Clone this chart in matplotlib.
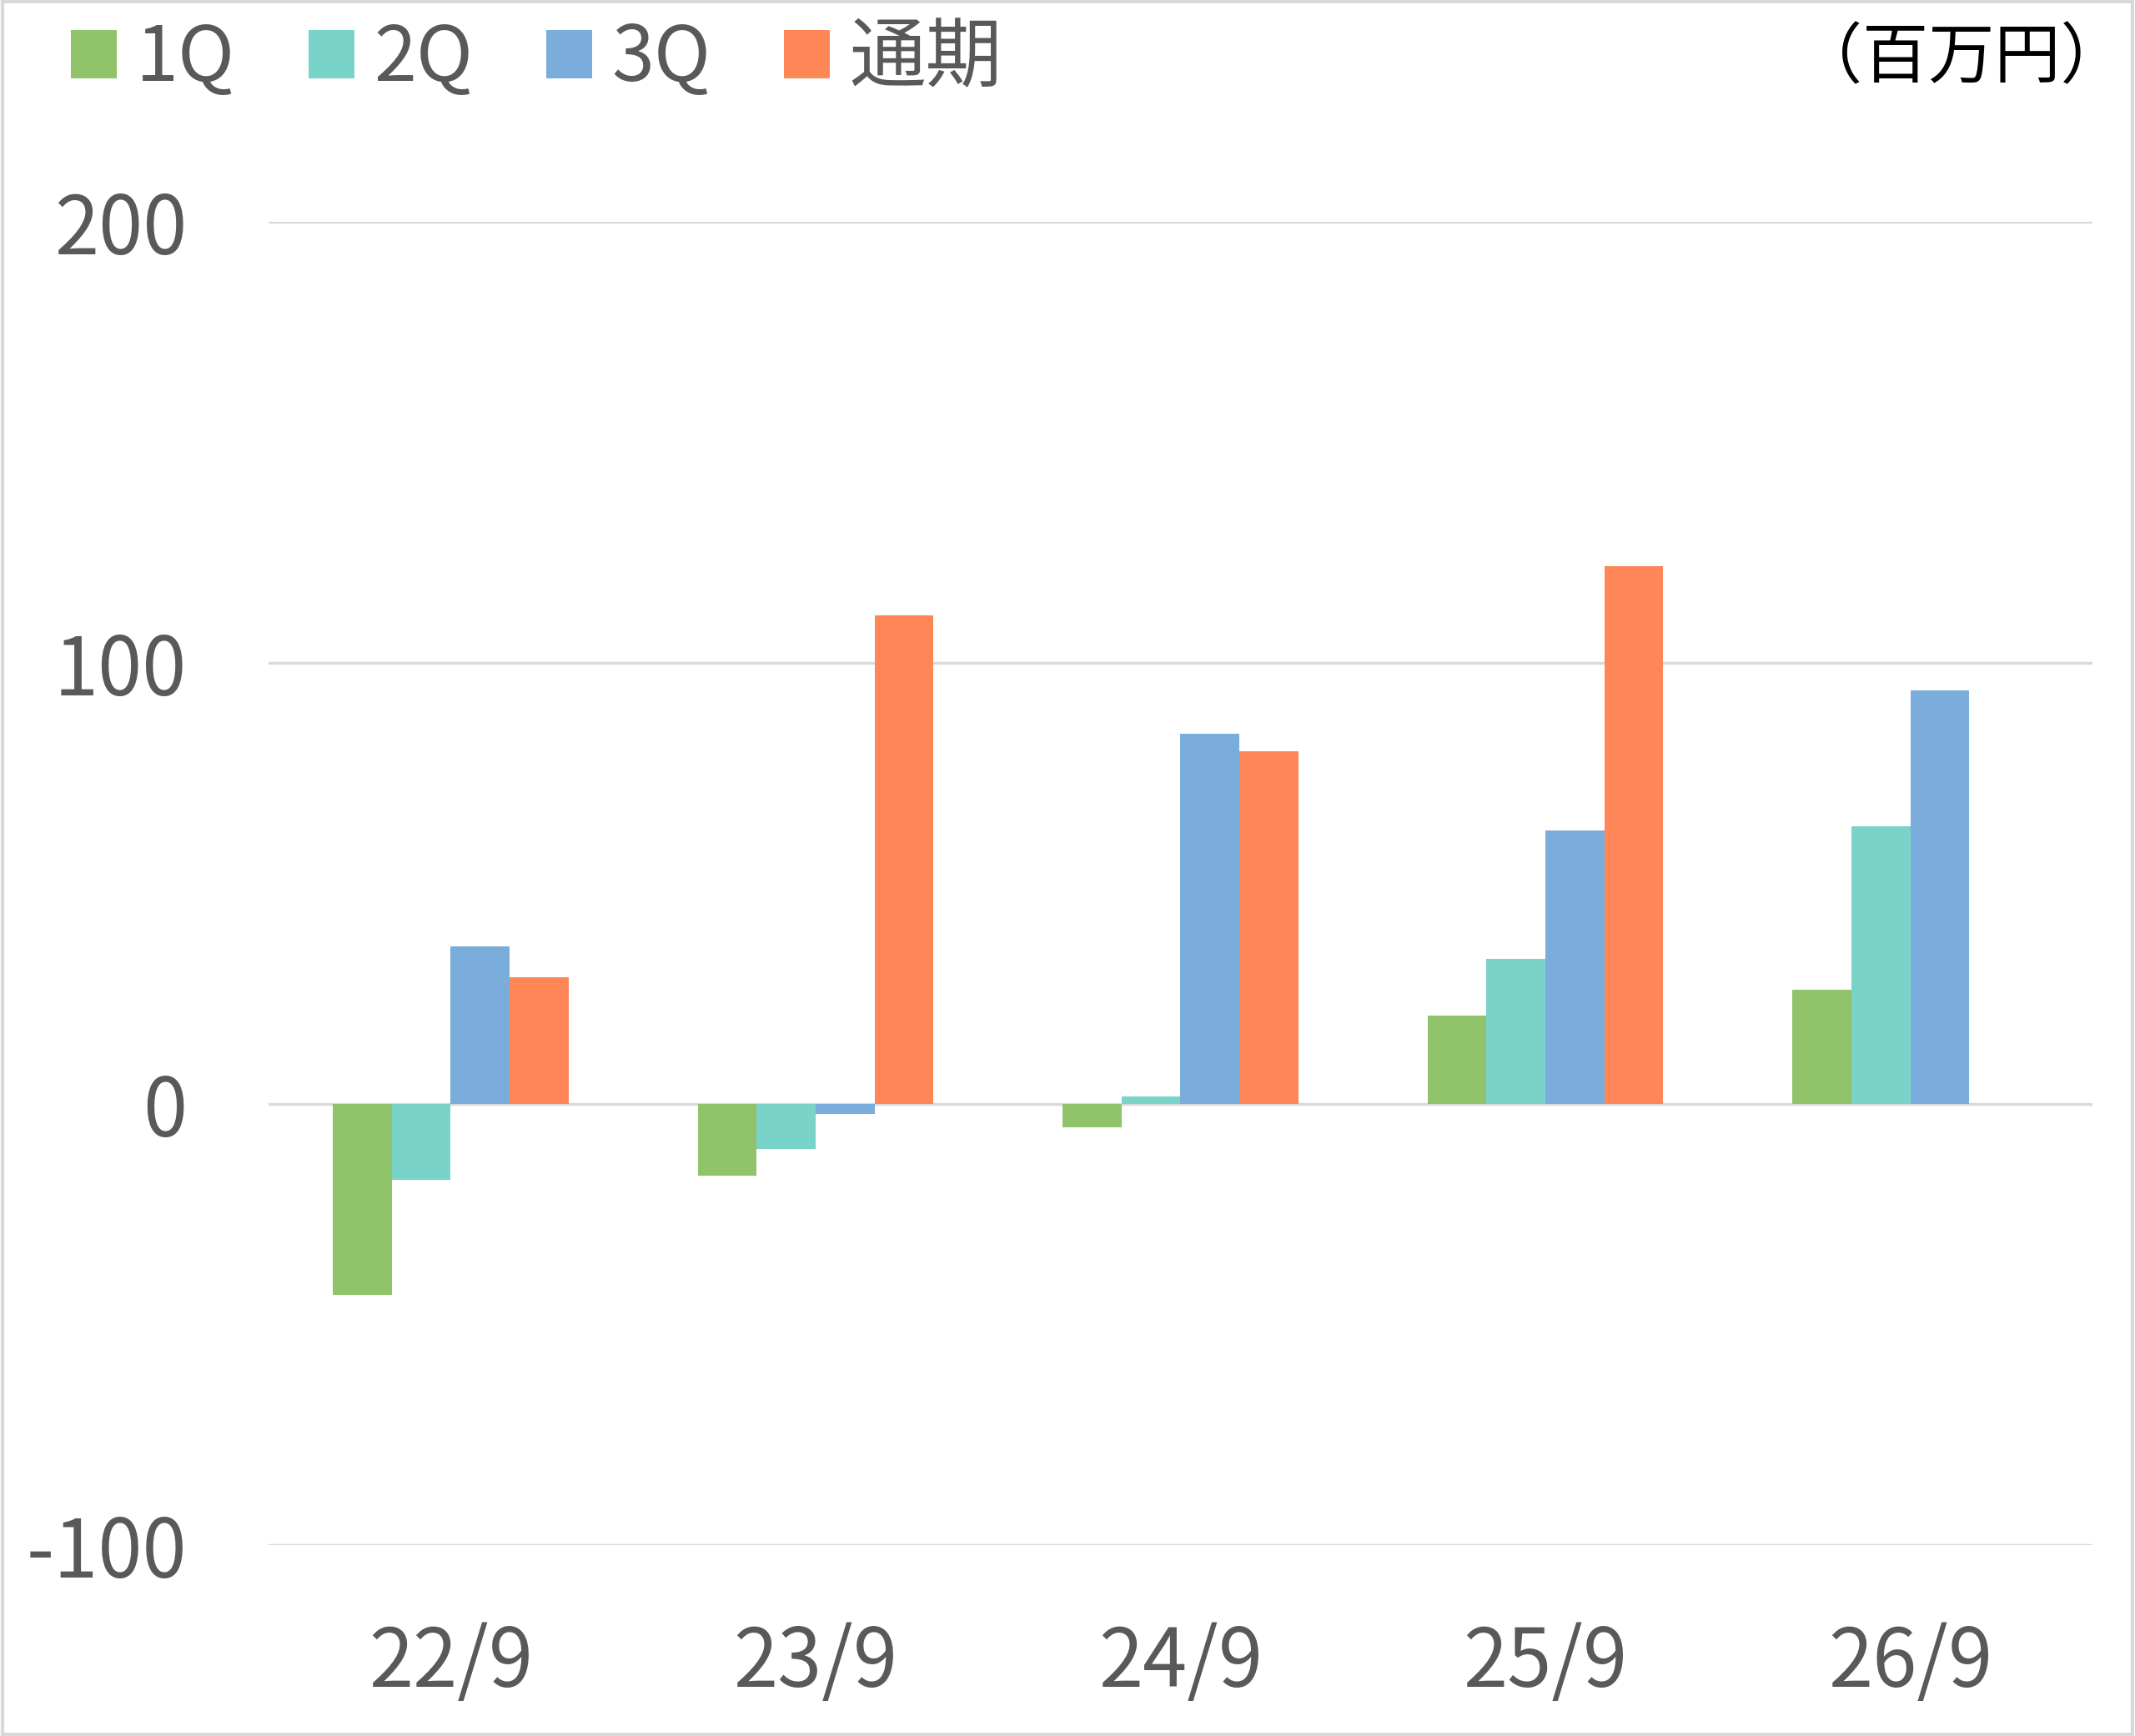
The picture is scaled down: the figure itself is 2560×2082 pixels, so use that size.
import matplotlib
matplotlib.use("Agg")
import matplotlib.pyplot as plt
from matplotlib.patches import Patch, Rectangle
import numpy as np

plt.rcParams['font.family'] = ['Noto Sans CJK JP', 'DejaVu Sans']

categories = ["22/9", "23/9", "24/9", "25/9", "26/9"]
series_names = ["1Q", "2Q", "3Q", "通期"]
q1 = [-43.2, -16.2, -5.2, 20.0, 26.0]
q2 = [-17.1, -10.2, 1.8, 33.0, 63.0]
q3 = [35.8, -2.2, 84.0, 62.0, 93.8]
full_year = [28.7, 110.8, 80.0, 121.9, np.nan]
colors = ["#91C36B", "#7AD3C9", "#7AACDC", "#FF8757"]
y_ticks = [-100, 0, 100, 200]
unit_label = "（百万円）"

fig = plt.figure(figsize=(25.6, 20.82), dpi=100)
fig.patch.set_facecolor("white")
fig.add_artist(Rectangle((0.001, 0.001), 0.998, 0.998, transform=fig.transFigure,
                         fill=False, edgecolor="#D9D9D9", linewidth=3))

ax = fig.add_axes([0.1256, 0.1098, 0.8546, 0.7624])
x = np.arange(len(categories))
w = 0.1615
all_series = [q1, q2, q3, full_year]
for i, (vals, c) in enumerate(zip(all_series, colors)):
    ax.bar(x + (i - 1.5) * w, vals, width=w, color=c, zorder=3, linewidth=0)

ax.set_xlim(-0.5, len(categories) - 0.5)
ax.set_ylim(-100, 200)
ax.set_yticks(y_ticks)
ax.set_yticklabels([str(t) for t in y_ticks])
ax.set_xticks(x)
ax.set_xticklabels(categories)
ax.grid(axis="y", color="#D9D9D9", linewidth=2.5, zorder=0)
ax.set_axisbelow(True)
for s in ax.spines.values():
    s.set_visible(False)
ax.tick_params(axis="both", length=0, labelsize=69, colors="#595959")
ax.tick_params(axis="y", pad=70)
ax.tick_params(axis="x", pad=66)

handles = [Patch(facecolor=c, edgecolor="none") for c in colors]
leg = fig.legend(handles, series_names, loc="upper left", bbox_to_anchor=(0.001, 1.028),
                 ncol=4, frameon=False, fontsize=66, handlelength=0.6, handleheight=0.6,
                 handletextpad=0.25, columnspacing=0.96, labelcolor="#595959")

fig.text(0.996, 0.966, unit_label, ha="right", va="center", fontsize=57, color="black")

fig.savefig("out.png", dpi=100, facecolor="white")
